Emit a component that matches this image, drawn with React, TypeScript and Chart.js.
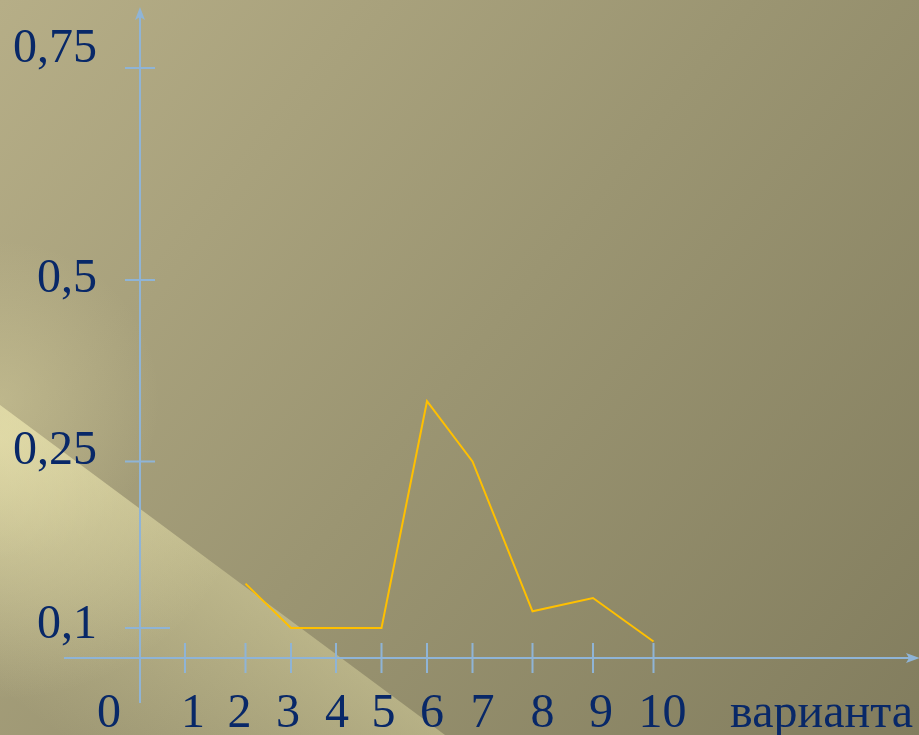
import { useEffect, useRef } from 'react';
import { Chart, registerables, LinearScale } from 'chart.js';

// ---- data ----
const variants = [2, 3, 4, 5, 6, 7, 8, 9, 10];
const shares = [0.14, 0.1, 0.1, 0.1, 0.333, 0.25, 0.115, 0.127, 0.055];
const xTickValues = [1, 2, 3, 4, 5, 6, 7, 8, 9, 10];
const xTickLabels = ['1', '2', '3', '4', '5', '6', '7', '8', '9', '10'];
const yTickValues = [0.1, 0.25, 0.5, 0.75];
const yTickLabels = ['0,1', '0,25', '0,5', '0,75'];
const originLabel = '0';
const xAxisTitle = 'варианта';

// ---- layout (hand-drawn axis: piecewise scale stops, in canvas pixels) ----
const W = 919;
const H = 735;
const X_STOPS_PX: [number, number][] = [
  [0, 140], [1, 185], [2, 245.5], [3, 291], [4, 336], [5, 381.5],
  [6, 427], [7, 472.5], [8, 532.5], [9, 593], [10, 653.5],
];
const Y_STOPS_PX: [number, number][] = [
  [0, 658], [0.1, 628], [0.25, 461.5], [0.5, 280], [0.75, 68],
];
const X_STOPS = X_STOPS_PX.map(([v, p]) => [v, p / W] as [number, number]);
const Y_STOPS = Y_STOPS_PX.map(([v, p]) => [v, (H - p) / H] as [number, number]);

const X_LABEL_DX = [8, -6, -3, 1, 2, 5, 10, 10, 8, 9];
const Y_LABEL_DY = [10, 2, 12, -6];

const AXIS_COLOR = '#8fb4d6';
const TEXT_COLOR = '#082868';
const LINE_COLOR = '#ffc000';
const FONT = '48px "Liberation Serif", "Times New Roman", serif';

function interp(stops: [number, number][], v: number, a: 0 | 1, b: 0 | 1) {
  const n = stops.length;
  let i = 0;
  if (v <= stops[0][a]) i = 0;
  else if (v >= stops[n - 1][a]) i = n - 2;
  else {
    while (i < n - 2 && v > stops[i + 1][a]) i++;
  }
  const s0 = stops[i];
  const s1 = stops[i + 1];
  return s0[b] + ((v - s0[a]) * (s1[b] - s0[b])) / (s1[a] - s0[a]);
}

class PiecewiseScale extends LinearScale {
  static id = 'piecewise';
  getPixelForValue(value: any) {
    if (value === null || value === undefined || isNaN(value)) return NaN;
    const stops = (this as any).axis === 'x' ? X_STOPS : Y_STOPS;
    return this.getPixelForDecimal(interp(stops, +value, 0, 1));
  }
  getValueForPixel(pixel: number) {
    const stops = (this as any).axis === 'x' ? X_STOPS : Y_STOPS;
    return interp(stops, this.getDecimalForPixel(pixel), 1, 0);
  }
}

Chart.register(...registerables, PiecewiseScale as any);

const backgroundPlugin = {
  id: 'slideBackground',
  beforeDraw(chart: any) {
    const ctx = chart.ctx as CanvasRenderingContext2D;
    const cw = chart.width;
    const ch = chart.height;
    ctx.save();
    const g = ctx.createLinearGradient(0, 0, cw, ch);
    g.addColorStop(0, '#b6ae87');
    g.addColorStop(0.5, '#9b9572');
    g.addColorStop(1, '#827d5e');
    ctx.fillStyle = g;
    ctx.fillRect(0, 0, cw, ch);
    // soft glow above the band near the left edge
    const sg = ctx.createRadialGradient(0, 400, 0, 0, 400, 160);
    sg.addColorStop(0, 'rgba(225,218,165,0.35)');
    sg.addColorStop(1, 'rgba(225,218,165,0)');
    ctx.fillStyle = sg;
    ctx.fillRect(0, 0, cw, ch);
    // bright diagonal band at bottom-left
    ctx.beginPath();
    ctx.moveTo(0, 405);
    ctx.lineTo(445, ch);
    ctx.lineTo(0, ch);
    ctx.closePath();
    ctx.clip();
    const len = Math.hypot(445, 330);
    const nx = -330 / len;
    const ny = 445 / len;
    const lg = ctx.createLinearGradient(0, 405, nx * 230, 405 + ny * 230);
    lg.addColorStop(0, 'rgba(232,226,170,0.42)');
    lg.addColorStop(1, 'rgba(232,226,170,0)');
    ctx.fillStyle = lg;
    ctx.fillRect(0, 0, cw, ch);
    const rg = ctx.createRadialGradient(0, 440, 0, 0, 440, 260);
    rg.addColorStop(0, 'rgba(240,234,180,0.55)');
    rg.addColorStop(1, 'rgba(240,234,180,0)');
    ctx.fillStyle = rg;
    ctx.fillRect(0, 0, cw, ch);
    ctx.restore();
  },
};

const axesPlugin = {
  id: 'handAxes',
  beforeDatasetsDraw(chart: any) {
    const ctx = chart.ctx as CanvasRenderingContext2D;
    const xs = chart.scales.x;
    const ys = chart.scales.y;
    const ox = xs.getPixelForValue(0);
    const oy = ys.getPixelForValue(0);
    ctx.save();
    ctx.strokeStyle = AXIS_COLOR;
    ctx.fillStyle = AXIS_COLOR;
    ctx.lineWidth = 2;
    // y axis
    ctx.beginPath();
    ctx.moveTo(ox, 703);
    ctx.lineTo(ox, 14);
    ctx.stroke();
    ctx.beginPath();
    ctx.moveTo(ox, 7);
    ctx.lineTo(ox - 5, 20);
    ctx.lineTo(ox, 17);
    ctx.lineTo(ox + 5, 20);
    ctx.closePath();
    ctx.fill();
    // x axis
    ctx.beginPath();
    ctx.moveTo(64, oy);
    ctx.lineTo(912, oy);
    ctx.stroke();
    ctx.beginPath();
    ctx.moveTo(920, oy);
    ctx.lineTo(906, oy - 5);
    ctx.lineTo(909, oy);
    ctx.lineTo(906, oy + 5);
    ctx.closePath();
    ctx.fill();
    // y ticks
    yTickValues.forEach((v, i) => {
      const py = ys.getPixelForValue(v);
      ctx.beginPath();
      ctx.moveTo(ox - 15, py);
      ctx.lineTo(ox + (i === 0 ? 30 : 15), py);
      ctx.stroke();
    });
    // x ticks
    xTickValues.forEach((v) => {
      const px = xs.getPixelForValue(v);
      ctx.beginPath();
      ctx.moveTo(px, oy - 15);
      ctx.lineTo(px, oy + 15);
      ctx.stroke();
    });
    // labels
    ctx.fillStyle = TEXT_COLOR;
    ctx.font = FONT;
    ctx.textBaseline = 'alphabetic';
    ctx.textAlign = 'right';
    yTickValues.forEach((v, i) => {
      const py = ys.getPixelForValue(v);
      ctx.fillText(yTickLabels[i], ox - 43, py + Y_LABEL_DY[i]);
    });
    ctx.textAlign = 'center';
    xTickValues.forEach((v, i) => {
      const px = xs.getPixelForValue(v);
      ctx.fillText(xTickLabels[i], px + X_LABEL_DX[i], oy + 69);
    });
    ctx.fillText(originLabel, ox - 31, oy + 69);
    ctx.textAlign = 'right';
    ctx.fillText(xAxisTitle, 913, oy + 69);
    ctx.restore();
  },
};

export default function App() {
  const ref = useRef<HTMLCanvasElement | null>(null);
  useEffect(() => {
    document.body.style.margin = '0';
    const canvas = ref.current;
    if (!canvas) return;
    const chart = new Chart(canvas, {
      type: 'line',
      data: {
        datasets: [
          {
            label: 'частота',
            data: variants.map((v, i) => ({ x: v, y: shares[i] })),
            borderColor: LINE_COLOR,
            borderWidth: 2,
            pointRadius: 0,
            tension: 0,
            fill: false,
          },
        ],
      },
      options: {
        animation: false,
        responsive: false,
        devicePixelRatio: 1,
        layout: { padding: 0 },
        plugins: { legend: { display: false }, tooltip: { enabled: false } },
        scales: {
          x: { type: 'piecewise' as any, display: false, min: -2, max: 17 },
          y: { type: 'piecewise' as any, display: false, min: -0.2, max: 1 },
        },
      },
      plugins: [backgroundPlugin, axesPlugin],
    });
    return () => chart.destroy();
  }, []);
  return (
    <div style={{ width: W, height: H }}>
      <canvas ref={ref} width={W} height={H} style={{ display: 'block' }} />
    </div>
  );
}
